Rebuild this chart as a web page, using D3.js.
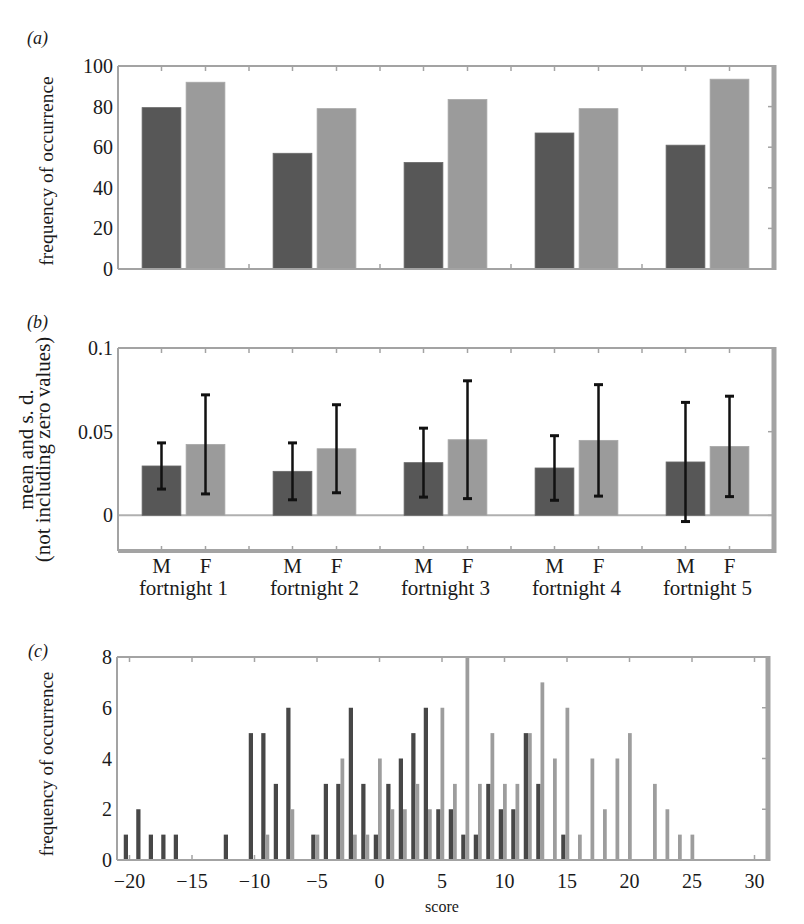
<!DOCTYPE html>
<html><head><meta charset="utf-8">
<script src="https://cdn.jsdelivr.net/npm/d3@7"></script>
<style>
body{margin:0;background:#fff}
svg{display:block}
text{font-family:"Liberation Serif","Times New Roman",serif;fill:#1a1a1a}
</style>
</head><body>
<svg id="chart" width="804" height="924"></svg>
<script>
// ---------- data ----------
const fortnights = ["fortnight 1","fortnight 2","fortnight 3","fortnight 4","fortnight 5"];
const sexes = ["M","F"];
// (a) frequency of occurrence
const freqM = [79.5, 57, 52.5, 67, 61];
const freqF = [92, 79, 83.5, 79, 93.5];
// (b) mean and s.d.
const meanM = [0.0295, 0.0263, 0.0315, 0.0283, 0.0319];
const sdM   = [0.0138, 0.0170, 0.0206, 0.0193, 0.0356];
const meanF = [0.0424, 0.0398, 0.0452, 0.0448, 0.0412];
const sdF   = [0.0296, 0.0263, 0.0352, 0.0333, 0.0300];
// (c) score histogram
const scores = [-20,-19,-18,-17,-16,-15,-14,-13,-12,-11,-10,-9,-8,-7,-6,-5,-4,-3,-2,-1,
                0,1,2,3,4,5,6,7,8,9,10,11,12,13,14,15,16,17,18,19,20,21,22,23,24,25];
const scoreM = [1,2,1,1,1,0,0,0,1,0, 5,5,3,6,0,1,3,3,6,3,
                1,3,4,5,6,2,2,1,1,3, 2,2,5,3,0,1,0,0,0,0, 0,0,0,0,0,0];
const scoreF = [0,0,0,0,0,0,0,0,0,0, 0,1,0,2,0,1,0,4,1,1,
                4,2,2,3,2,6,3,8,3,5, 3,3,5,7,4,6,1,4,2,4, 5,0,3,2,1,1];
// ticks
const freqTicks = [0,20,40,60,80,100];
const meanTicks = [0,0.05,0.1];
const meanTickLabels = ["0","0.05","0.1"];
const countTicks = [0,2,4,6,8];
const scoreTicks = [-20,-15,-10,-5,0,5,10,15,20,25,30];
const scoreTickLabels = ["\u221220","\u221215","\u221210","\u22125","0","5","10","15","20","25","30"];

// ---------- styles ----------
const DARK = "#575757", LIGHT = "#9b9b9b", FRAME = "#a3a3a3";
const TICKFS = 20;
const svg = d3.select("#chart");

function frame(g, L, R, T, B, thickBottom) {
  g.append("line").attr("x1",L).attr("x2",R).attr("y1",T).attr("y2",T).attr("stroke",FRAME).attr("stroke-width",2);
  g.append("line").attr("x1",L).attr("x2",L).attr("y1",T).attr("y2",B).attr("stroke",FRAME).attr("stroke-width",2);
  g.append("line").attr("x1",L).attr("x2",R+2).attr("y1",B).attr("y2",B).attr("stroke",FRAME).attr("stroke-width",thickBottom?4:2);
  g.append("line").attr("x1",R+1).attr("x2",R+1).attr("y1",T-1).attr("y2",B+(thickBottom?2:1)).attr("stroke",FRAME).attr("stroke-width",5);
}

// ---------- panel (a) ----------
{
  const L=118, R=773, T=66, B=269;
  const x = d3.scaleLinear().domain([0.5,5.5]).range([L,R]);
  const y = d3.scaleLinear().domain([0,100]).range([B,T]);
  const g = svg.append("g");
  const u = x(2)-x(1);
  const off = 0.168, bw = 0.296;
  const xt = [];
  fortnights.forEach((f,i)=>{ xt.push(i+1-off, i+1+off); if(i<4) xt.push(i+1.5); });
  xt.forEach(t=>{
    g.append("line").attr("x1",x(t)).attr("x2",x(t)).attr("y1",T).attr("y2",T+5).attr("stroke",FRAME).attr("stroke-width",1.5);
    g.append("line").attr("x1",x(t)).attr("x2",x(t)).attr("y1",B).attr("y2",B-5).attr("stroke",FRAME).attr("stroke-width",1.5);
  });
  freqTicks.forEach(t=>{
    g.append("line").attr("x1",R).attr("x2",R-5).attr("y1",y(t)).attr("y2",y(t)).attr("stroke",FRAME).attr("stroke-width",1.5);
    g.append("text").attr("x",L-5).attr("y",y(t)).attr("dy","0.35em").attr("text-anchor","end").attr("font-size",TICKFS).text(t);
  });
  g.selectAll(".bm").data(freqM).join("rect")
    .attr("x",(d,i)=>x(i+1-off)-bw*u/2).attr("width",bw*u)
    .attr("y",d=>y(d)).attr("height",d=>y(0)-y(d)).attr("fill",DARK).attr("stroke","#6a6a6a").attr("stroke-width",0.8);
  g.selectAll(".bf").data(freqF).join("rect")
    .attr("x",(d,i)=>x(i+1+off)-bw*u/2).attr("width",bw*u)
    .attr("y",d=>y(d)).attr("height",d=>y(0)-y(d)).attr("fill",LIGHT).attr("stroke","#a8a8a8").attr("stroke-width",0.8);
  frame(g,L,R,T,B,false);
  g.append("text").attr("x",27).attr("y",44).attr("font-size",18).attr("font-style","italic").text("(a)");
  g.append("text").attr("transform",`translate(53,171) rotate(-90)`).attr("text-anchor","middle")
    .attr("font-size",19.5).text("frequency of occurrence");
}

// ---------- panel (b) ----------
{
  const L=118, R=773, T=348, B=551;
  const x = d3.scaleLinear().domain([0.5,5.5]).range([L,R]);
  const y = d3.scaleLinear().domain([-0.0213,0.1]).range([B,T]);
  const g = svg.append("g");
  const u = x(2)-x(1);
  const off = 0.168, bw = 0.296;
  const xt = [];
  fortnights.forEach((f,i)=>{ xt.push(i+1-off, i+1+off); if(i<4) xt.push(i+1.5); });
  xt.forEach(t=>{
    g.append("line").attr("x1",x(t)).attr("x2",x(t)).attr("y1",T).attr("y2",T+5).attr("stroke",FRAME).attr("stroke-width",1.5);
    g.append("line").attr("x1",x(t)).attr("x2",x(t)).attr("y1",B).attr("y2",B-5).attr("stroke",FRAME).attr("stroke-width",1.5);
  });
  meanTicks.forEach((t,k)=>{
    g.append("line").attr("x1",R).attr("x2",R-5).attr("y1",y(t)).attr("y2",y(t)).attr("stroke",FRAME).attr("stroke-width",1.5);
    g.append("text").attr("x",L-5).attr("y",y(t)).attr("dy","0.35em").attr("text-anchor","end").attr("font-size",TICKFS).text(meanTickLabels[k]);
  });
  g.append("line").attr("x1",L).attr("x2",R).attr("y1",y(0)).attr("y2",y(0)).attr("stroke","#b0b0b0").attr("stroke-width",2);
  const series = [
    {m:meanM, s:sdM, o:-off, c:DARK, st:"#6a6a6a"},
    {m:meanF, s:sdF, o:off, c:LIGHT, st:"#a8a8a8"}
  ];
  series.forEach(se=>{
    g.append("g").selectAll("rect").data(se.m).join("rect")
      .attr("x",(d,i)=>x(i+1+se.o)-bw*u/2).attr("width",bw*u)
      .attr("y",d=>y(d)).attr("height",d=>y(0)-y(d)).attr("fill",se.c).attr("stroke",se.st).attr("stroke-width",0.8);
  });
  series.forEach(se=>{
    se.m.forEach((d,i)=>{
      const cx = x(i+1+se.o), y1=y(d+se.s[i]), y2=y(d-se.s[i]);
      g.append("line").attr("x1",cx).attr("x2",cx).attr("y1",y1).attr("y2",y2).attr("stroke","#111").attr("stroke-width",2.5);
      [y1,y2].forEach(yy=>g.append("line").attr("x1",cx-4.5).attr("x2",cx+4.5).attr("y1",yy).attr("y2",yy).attr("stroke","#111").attr("stroke-width",3));
    });
  });
  frame(g,L,R,T,B,true);
  fortnights.forEach((f,i)=>{
    sexes.forEach((s,k)=>{
      g.append("text").attr("x",x(i+1+(k?off:-off))).attr("y",573).attr("text-anchor","middle").attr("font-size",21).text(s);
    });
    g.append("text").attr("x",x(i+1)).attr("y",595).attr("text-anchor","middle").attr("font-size",21).text(f);
  });
  g.append("text").attr("x",27).attr("y",328).attr("font-size",18).attr("font-style","italic").text("(b)");
  g.append("text").attr("transform",`translate(33,${(T+B)/2}) rotate(-90)`).attr("text-anchor","middle")
    .attr("font-size",21).text("mean and s. d.");
  g.append("text").attr("transform",`translate(50,${(T+B)/2}) rotate(-90)`).attr("text-anchor","middle")
    .attr("font-size",21).text("(not including zero values)");
}

// ---------- panel (c) ----------
{
  const L=117, R=767, T=657, B=860;
  const x = d3.scaleLinear().domain([-21,31]).range([L,R]);
  const y = d3.scaleLinear().domain([0,8]).range([B,T]);
  const g = svg.append("g");
  const u = x(1)-x(0);
  scoreTicks.forEach((t,k)=>{
    g.append("line").attr("x1",x(t)).attr("x2",x(t)).attr("y1",T).attr("y2",T+5).attr("stroke",FRAME).attr("stroke-width",1.5);
    g.append("line").attr("x1",x(t)).attr("x2",x(t)).attr("y1",B).attr("y2",B-5).attr("stroke",FRAME).attr("stroke-width",1.5);
    g.append("text").attr("x",x(t)).attr("y",B+28).attr("text-anchor","middle").attr("font-size",TICKFS).text(scoreTickLabels[k]);
  });
  countTicks.forEach(t=>{
    g.append("line").attr("x1",R).attr("x2",R-5).attr("y1",y(t)).attr("y2",y(t)).attr("stroke",FRAME).attr("stroke-width",1.5);
    g.append("text").attr("x",L-5).attr("y",y(t)).attr("dy","0.35em").attr("text-anchor","end").attr("font-size",TICKFS).text(t);
  });
  g.append("g").selectAll("rect").data(scores).join("rect")
    .attr("x",d=>x(d-0.46)).attr("width",0.34*u)
    .attr("y",(d,i)=>y(scoreM[i])).attr("height",(d,i)=>y(0)-y(scoreM[i])).attr("fill","#474747");
  g.append("g").selectAll("rect").data(scores).join("rect")
    .attr("x",d=>x(d-0.12)).attr("width",0.3*u)
    .attr("y",(d,i)=>y(scoreF[i])).attr("height",(d,i)=>y(0)-y(scoreF[i])).attr("fill","#9d9d9d");
  frame(g,L,R,T,B,false);
  g.append("text").attr("x",442).attr("y",912).attr("text-anchor","middle").attr("font-size",16).text("score");
  g.append("text").attr("x",28).attr("y",657).attr("font-size",18).attr("font-style","italic").text("(c)");
  g.append("text").attr("transform",`translate(53,764) rotate(-90)`).attr("text-anchor","middle")
    .attr("font-size",19).text("frequency of occurrence");
}
</script>
</body></html>
